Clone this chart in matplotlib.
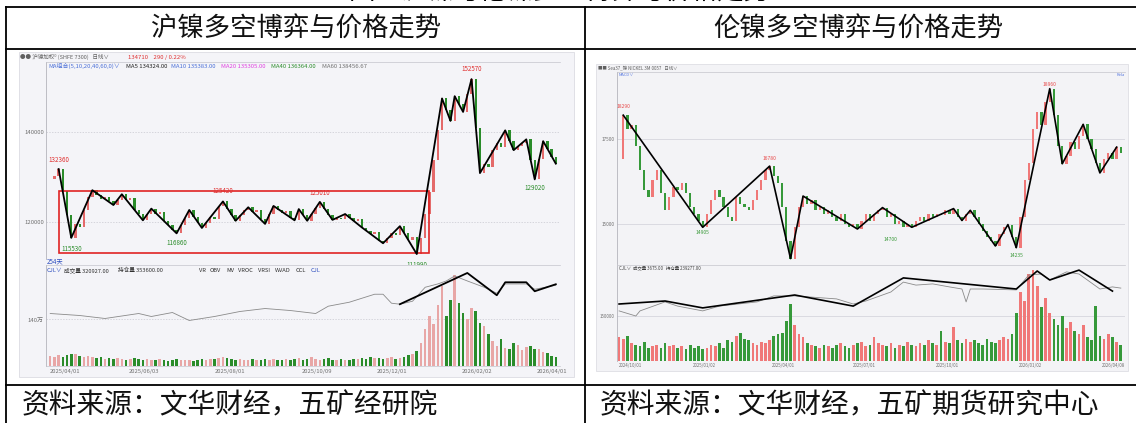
import numpy as np
import matplotlib.pyplot as plt
from matplotlib.patches import Rectangle
from matplotlib.lines import Line2D

plt.rcParams['font.family'] = ['Noto Sans CJK SC', 'DejaVu Sans']

W, H = 1136, 423

# ---------------- SHFE nickel (left), prices in thousand yuan, ~2 trading days per bar
shfe_close = [
    129.5, 130.2, 131.8, 127.0, 121.5, 116.5, 119.5, 118.9, 122.6, 125.6,
    127.1, 126.0, 125.1, 125.6, 124.6, 123.8, 125.0, 126.2, 125.0, 125.4,
    122.8, 121.9, 120.4, 121.9, 123.0, 121.8, 122.2, 120.2, 119.4, 118.3,
    117.5, 119.3, 121.0, 122.7, 121.2, 119.8, 118.7, 119.9, 121.2, 120.8,
    123.5, 124.6, 123.0, 121.6, 120.3, 121.5, 122.6, 123.3, 122.3, 122.7,
    120.6, 119.6, 121.7, 123.6, 122.8, 122.0, 122.4, 120.9, 120.4, 122.9,
    121.5, 120.3, 121.8, 123.1, 124.5, 123.0, 121.6, 120.5, 121.0, 120.7,
    121.8, 121.0, 120.2, 120.6, 118.8, 118.0, 117.3, 117.7, 115.9, 115.3,
    116.4, 117.6, 117.2, 119.1, 117.5, 116.0, 116.6, 112.9, 116.5, 121.8,
    126.7, 133.8, 140.5, 147.5, 145.0, 142.5, 148.0, 146.3, 144.5, 148.5,
    151.8, 141.0, 130.9, 133.0, 132.2, 136.0, 137.5, 136.8, 140.4, 138.0,
    136.0, 136.9, 137.6, 138.4, 133.8, 129.5, 134.0, 138.0, 136.2, 134.5,
    133.0]
shfe_vol = [
    30, 26, 32, 28, 34, 37, 36, 30, 26, 29,
    27, 24, 26, 22, 25, 20, 24, 22, 19, 21,
    23, 20, 18, 22, 19, 17, 20, 18, 16, 19,
    21, 18, 17, 19, 15, 17, 20, 18, 22, 21,
    25, 28, 24, 20, 18, 22, 19, 17, 20, 18,
    19, 22, 18, 20, 17, 19, 21, 18, 20, 23,
    19, 22, 26, 20, 18, 21, 24, 19, 17, 20,
    18, 19, 22, 20, 24, 21, 26, 23, 25, 22,
    24, 27, 22, 25, 28, 32, 36, 45, 70, 110,
    150, 125, 185, 240, 150, 200, 275, 190, 160, 140,
    175, 165, 130, 120, 95, 75, 60, 80, 55, 50,
    70, 62, 48, 56, 60, 52, 50, 42, 38, 30,
    26]
shfe_zz_idx = [2, 5, 10, 15, 17, 22, 24, 30, 33, 36, 41, 44, 47, 51, 53, 58, 59, 61, 64,
               67, 70, 74, 79, 83, 87, 93, 95, 96, 98, 100, 102, 108, 110, 113, 115, 117, 120]
shfe_zz_val = [131.8, 116.5, 127.1, 123.8, 126.2, 120.4, 123.0, 117.5, 122.7, 118.7, 124.6,
               120.3, 123.3, 119.6, 123.6, 120.4, 122.9, 120.3, 124.5, 120.5, 121.8, 118.8,
               115.3, 119.1, 112.9, 147.5, 142.5, 148.0, 144.5, 151.8, 130.9, 140.4, 136.0,
               138.4, 129.5, 138.0, 133.0]
shfe_oi_idx = [0, 7, 13, 21, 24, 29, 33, 39, 45, 51, 57, 63, 66, 71, 77, 79, 81, 83, 86,
               89, 92, 94, 96, 99, 103, 106, 108, 113, 115, 120]
shfe_oi = [158, 152, 143, 158, 149, 161, 137, 149, 164, 173, 167, 158, 180, 192, 216, 216,
           189, 186, 195, 237, 247, 256, 271, 256, 237, 219, 247, 247, 231, 243]
shfe_oi_zz_idx = [83, 99, 106, 108, 113, 115, 120]
shfe_oi_zz = [186, 280, 213, 252, 252, 225, 246]
shfe_mark_idx = [2, 5, 30, 41, 64, 87, 100, 115]
shfe_mark_val = [132360, 115530, 116860, 125420, 125010, 111990, 152570, 129020]
shfe_mark_hi = [True, False, False, True, True, False, True, False]
shfe_box = [2.2, 89.9, 113.1, 126.9]
shfe_date_idx = [0, 18.6, 39, 59.8, 77.4, 97.6, 115.5]
shfe_dates = ['2025/04/01', '2025/06/03', '2025/08/01', '2025/10/09', '2025/12/01',
              '2026/02/02', '2026/04/01']

# ---------------- LME nickel (right), prices in thousand USD, ~3 trading days per bar
lme_close = [
    16.9, 18.2, 17.8, 17.9, 17.3, 16.6, 16.0, 15.8, 16.3, 16.6,
    15.9, 15.4, 15.8, 16.1, 16.0, 16.2, 15.9, 15.5, 15.3, 15.1,
    14.9, 15.3, 15.7, 16.0, 15.8, 15.5, 15.2, 15.1, 15.8, 15.6,
    15.5, 15.4, 15.7, 16.0, 16.3, 16.6, 16.7, 16.4, 16.2, 15.5,
    14.5, 13.98, 14.9, 15.5, 15.82, 15.6, 15.7, 15.4, 15.5, 15.3,
    15.4, 15.2, 15.1, 15.3, 15.0, 14.9, 15.0, 14.85, 15.1, 15.3,
    15.1, 15.3, 15.4, 15.48, 15.2, 15.3, 15.0, 15.1, 14.9, 15.0,
    14.9, 15.1, 15.2, 15.1, 15.3, 15.2, 15.3, 15.25, 15.4, 15.3,
    15.45, 15.2, 15.1, 15.3, 15.4, 15.2, 15.0, 14.8, 14.6, 14.5,
    14.35, 14.7, 14.9, 14.98, 14.6, 14.3, 15.2, 16.3, 16.8, 17.8,
    18.3, 17.9, 18.6, 18.98, 18.2, 17.3, 16.77, 17.0, 17.4, 17.2,
    17.6, 17.93, 17.5, 17.2, 16.8, 16.5, 16.9, 17.1, 16.9, 17.26,
    17.1]
lme_vol = [
    80, 75, 85, 60, 55, 50, 65, 45, 50, 55,
    45, 60, 50, 55, 45, 50, 40, 55, 45, 50,
    40, 45, 55, 50, 60, 45, 70, 65, 85, 95,
    75, 70, 60, 55, 65, 60, 70, 85, 90, 95,
    135, 190, 120, 90, 80, 60, 55, 50, 45, 55,
    50, 45, 55, 60, 50, 45, 55, 60, 65, 50,
    55, 80, 60, 55, 50, 60, 45, 55, 50, 65,
    55, 50, 60, 55, 70, 60, 55, 100, 65, 60,
    115, 70, 60, 75, 65, 70, 60, 55, 75, 65,
    60, 70, 80, 75, 90, 160, 230, 200, 290, 303,
    250, 180, 210, 160, 140, 120, 150, 110, 130, 100,
    90, 120, 80, 70, 185, 85, 75, 90, 80, 65,
    55]
lme_zz_idx = [1, 20, 36, 41, 44, 57, 63, 70, 80, 82, 84, 90, 93, 95, 103, 106, 111, 115, 119]
lme_zz_val = [18.2, 14.9, 16.7, 13.98, 15.82, 14.85, 15.48, 14.9, 15.45, 15.1, 15.4, 14.35,
              14.98, 14.3, 18.98, 16.77, 17.93, 16.5, 17.26]
lme_oi_idx = [0, 4, 5, 11, 14, 20, 24, 33, 37, 42, 46, 52, 56, 59, 65, 68, 71, 75, 79, 82,
              83, 84, 87, 95, 98, 101, 103, 107, 110, 115, 118, 120]
lme_oi = [167, 150, 167, 197, 183, 167, 183, 197, 217, 217, 213, 207, 190, 200, 230, 263,
          253, 257, 247, 240, 197, 240, 240, 237, 287, 290, 270, 297, 290, 240, 247, 243]
lme_oi_zz_idx = [0, 11, 20, 42, 56, 68, 95, 100, 103, 110, 118]
lme_oi_zz = [190, 200, 177, 220, 183, 277, 240, 300, 270, 303, 233]
lme_mark_idx = [1, 20, 36, 41, 65, 95, 103]
lme_mark_val = [18290, 14905, 16780, 13865, 14700, 14235, 18960]
lme_mark_hi = [True, False, True, False, False, False, True]
lme_date_idx = [0, 17.6, 36.6, 55.8, 75.8, 95.5, 115.4]
lme_dates = ['2024/10/01', '2025/01/02', '2025/04/01', '2025/07/01', '2025/10/01',
             '2026/01/02', '2026/04/08']


def box(x0, y0, x1, y1):
    return [x0 / W, 1 - y1 / H, (x1 - x0) / W, (y1 - y0) / H]


def fx(x):
    return x / W


def fy(y):
    return 1 - y / H


fig = plt.figure(figsize=(W / 100, H / 100), dpi=100)
fig.patch.set_facecolor('white')

# clipped caption above the table
fig.text(fx(560), fy(-8), '图：沪镍与伦镍多空博弈与价格走势', fontsize=19, ha='center',
         va='center', color='black')

# screenshot backgrounds (behind the axes)
fig.add_artist(Rectangle((fx(19), fy(377)), fx(574) - fx(19), fy(52) - fy(377),
                         transform=fig.transFigure, facecolor='#f4f4f8', edgecolor='#dcdce2',
                         lw=0.6, zorder=-5))
fig.add_artist(Rectangle((fx(596), fy(371)), fx(1128) - fx(596), fy(64) - fy(371),
                         transform=fig.transFigure, facecolor='#f3f3f6', edgecolor='#dedee4',
                         lw=0.6, zorder=-5))


def candles(ax, close, up, dn):
    opens = [close[0]] + close[:-1]
    cols = [up if c >= o else dn for o, c in zip(opens, close)]
    x = np.arange(len(close))
    ax.bar(x, np.array(close) - np.array(opens), bottom=opens, width=0.55, color=cols, linewidth=0)
    return cols


def base_style(ax, bg):
    ax.set_facecolor(bg)
    for s in ax.spines.values():
        s.set_visible(False)
    ax.spines['left'].set_visible(True)
    ax.spines['left'].set_color('#b4b4bc')
    ax.spines['left'].set_linewidth(0.6)
    ax.spines['top'].set_visible(True)
    ax.spines['top'].set_color('#c4c4cc')
    ax.spines['top'].set_linewidth(0.5)
    ax.tick_params(length=0, labelsize=4.3, colors='#707070', pad=1.5)


RED_L, GRN_L, VRED_L = '#e46a6a', '#2a8c2a', '#e8a6a6'

# ---------------- left price pane
axp = fig.add_axes(box(46, 62, 560, 259))
base_style(axp, '#f4f4f8')
n = len(shfe_close)
axp.set_xlim(-1, n)
axp.set_ylim(111.8, 155.6)
cols_l = candles(axp, shfe_close, RED_L, GRN_L)
axp.plot(shfe_zz_idx, shfe_zz_val, color='black', lw=1.3)
axp.add_patch(Rectangle((shfe_box[0], shfe_box[2]), shfe_box[1] - shfe_box[0],
                        shfe_box[3] - shfe_box[2], fill=False, edgecolor='#e02424', lw=1.2))
axp.set_yticks([120, 140])
axp.set_yticklabels(['120000', '140000'])
axp.set_xticks([])
for v in [120, 140]:
    axp.axhline(v, color='#c8c8d0', lw=0.5, ls=(0, (2, 2)), zorder=0)
for i, v, hi in zip(shfe_mark_idx, shfe_mark_val, shfe_mark_hi):
    axp.annotate(str(v), (i, v / 1000), xytext=(0, 2 if hi else -2), textcoords='offset points',
                 ha='center', va='bottom' if hi else 'top', fontsize=4.5,
                 color='#e03030' if hi else '#2a8c2a', annotation_clip=False)

# left header texts
fig.text(fx(20), fy(57), '●● 沪镍加权⁰ (SHFE 7300)   日线∨', fontsize=4, color='#606060', va='center')
fig.text(fx(128), fy(57), '134710    290 / 0.22%', fontsize=4.3, color='#e03030', va='center')
ma_txt = [('MA组合(5,10,20,40,60,0)∨', 48, '#4a6fd8'), ('MA5 134324.00', 126, '#202020'),
          ('MA10 135383.00', 171, '#4a6fd8'), ('MA20 135305.00', 221, '#e040e0'),
          ('MA40 136364.00', 271, '#2a8c2a'), ('MA60 138456.67', 322, '#707070')]
for t, x, c in ma_txt:
    fig.text(fx(x), fy(66), t, fontsize=4.3, color=c, va='center')
fig.text(fx(47), fy(261), '254天', fontsize=4.5, color='#3050c0', va='center')

# ---------------- left volume pane
axv = fig.add_axes(box(46, 265, 560, 366))
base_style(axv, '#f4f4f8')
axv.spines['bottom'].set_visible(True)
axv.spines['bottom'].set_color('#c4c4cc')
axv.spines['bottom'].set_linewidth(0.5)
axv.set_xlim(-1, n)
axv.set_ylim(0, 304)
vcols = [VRED_L if c == RED_L else GRN_L for c in cols_l]
axv.bar(np.arange(n), shfe_vol, width=0.6, color=vcols, linewidth=0)
axv.plot(shfe_oi_idx, shfe_oi, color='#8a8a8a', lw=0.6)
axv.plot(shfe_oi_zz_idx, shfe_oi_zz, color='black', lw=1.3)
axv.axhline(140, color='#c8c8d0', lw=0.5, ls=(0, (2, 2)), zorder=0)
axv.set_yticks([140])
axv.set_yticklabels(['140万'])
axv.set_xticks(shfe_date_idx)
axv.set_xticklabels(shfe_dates)
axv.tick_params(axis='x', labelsize=4.2, pad=2)
for lab in axv.get_xticklabels():
    lab.set_ha('left')
vol_head = [('CJL∨', 47, '#3050c0'), ('成交量 320927.00', 64, '#303030'),
            ('持仓量 353600.00', 118, '#303030'), ('VR', 199, '#303030'), ('OBV', 210, '#303030'),
            ('MV', 226, '#303030'), ('VROC', 238, '#303030'), ('VRSI', 258, '#303030'),
            ('WVAD', 275, '#303030'), ('CCL', 296, '#303030'), ('CJL', 311, '#3050c0')]
for t, x, c in vol_head:
    fig.text(fx(x), fy(270), t, fontsize=4.1, color=c, va='center')

# ---------------- right price pane
RED_R, GRN_R = '#f07878', '#36993a'
bxp = fig.add_axes(box(617, 72, 1125, 264))
base_style(bxp, '#f3f3f6')
m = len(lme_close)
bxp.set_xlim(-0.5, m)
bxp.set_ylim(13.82, 19.47)
cols_r = candles(bxp, lme_close, RED_R, GRN_R)
bxp.plot(lme_zz_idx, lme_zz_val, color='black', lw=1.2)
bxp.set_yticks([15, 17.5])
bxp.set_yticklabels(['15000', '17500'])
bxp.tick_params(labelsize=3.4)
bxp.set_xticks([])
for v in [15, 17.5]:
    bxp.axhline(v, color='#d0d0d8', lw=0.5, zorder=0)
for i, v, hi in zip(lme_mark_idx, lme_mark_val, lme_mark_hi):
    bxp.annotate(str(v), (i, v / 1000), xytext=(0, 2 if hi else -2), textcoords='offset points',
                 ha='center', va='bottom' if hi else 'top', fontsize=3.6,
                 color='#e84a4a' if hi else '#3a9a3a', annotation_clip=False)
fig.text(fx(598), fy(68), '■■ Sea37_镍 NICKEL 3M 0057   日线∨', fontsize=3.2, color='#606060', va='center')
fig.text(fx(619), fy(75), 'MACD∨', fontsize=3.0, color='#5a7ae0', va='center')
fig.text(fx(1125), fy(75), 'Rela', fontsize=3.0, color='#5a7ae0', va='center', ha='right')

# ---------------- right volume pane
bxv = fig.add_axes(box(617, 265, 1125, 361))
base_style(bxv, '#f3f3f6')
bxv.set_xlim(-0.5, m)
bxv.set_ylim(0, 320)
bxv.bar(np.arange(m), lme_vol, width=0.65, color=cols_r, linewidth=0)
bxv.plot(lme_oi_idx, lme_oi, color='#8a8a8a', lw=0.6)
bxv.plot(lme_oi_zz_idx, lme_oi_zz, color='black', lw=1.2)
bxv.axhline(150, color='#d0d0d8', lw=0.5, zorder=0)
bxv.set_yticks([150])
bxv.set_yticklabels(['150000'])
bxv.set_xticks(lme_date_idx)
bxv.set_xticklabels(lme_dates)
bxv.tick_params(labelsize=3.2)
bxv.tick_params(axis='x', pad=1.5)
for lab in bxv.get_xticklabels():
    lab.set_ha('left')
fig.text(fx(619), fy(268), 'CJL∨  成交量 3675.00   持仓量 239277.00', fontsize=3.2,
         color='#404040', va='center')

# ---------------- table frame and texts
for y in [7, 49, 385]:
    fig.add_artist(Line2D([fx(6), 1], [fy(y), fy(y)], transform=fig.transFigure, color='black', lw=1.3))
for x in [6, 585]:
    fig.add_artist(Line2D([fx(x), fx(x)], [fy(7), 0], transform=fig.transFigure, color='black', lw=1.3))

fig.text(fx(296), fy(29), '沪镍多空博弈与价格走势', fontsize=19, ha='center', va='center', color='#111111')
fig.text(fx(858), fy(29), '伦镍多空博弈与价格走势', fontsize=19, ha='center', va='center', color='#111111')
fig.text(fx(22), fy(405), '资料来源：文华财经，五矿经研院', fontsize=20, ha='left', va='center', color='#111111')
fig.text(fx(600), fy(405), '资料来源：文华财经，五矿期货研究中心', fontsize=20, ha='left', va='center',
         color='#111111')

fig.savefig('out.png', dpi=100)
